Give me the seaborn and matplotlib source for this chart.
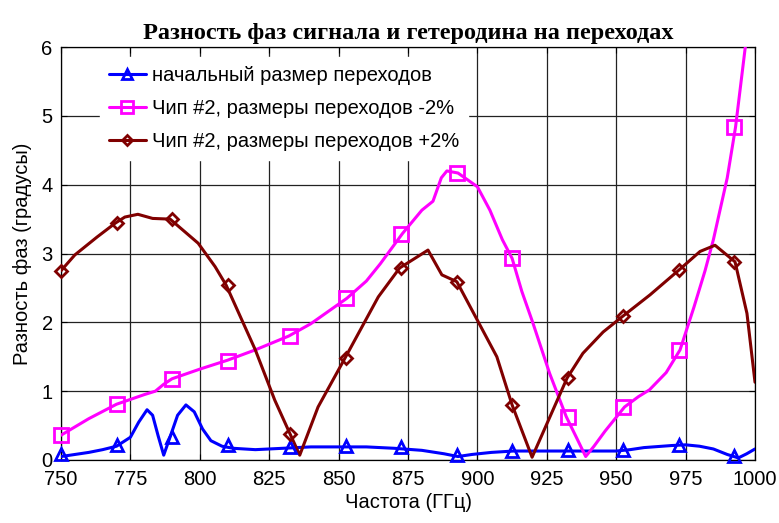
import numpy as np
import pandas as pd
import matplotlib
matplotlib.use("Agg")
import matplotlib.pyplot as plt
from matplotlib.lines import Line2D
import seaborn as sns

# --- data -------------------------------------------------------------
# initial junction size
f_base = [750, 755, 760, 765, 770, 775, 778, 781, 783, 785, 787, 789, 792, 795,
          798, 801, 804, 808, 812, 820, 830, 840, 850, 860, 870, 880, 888, 893,
          898, 905, 913, 920, 930, 940, 950, 955, 960, 970, 975, 980, 985, 990,
          994, 997, 1000]
v_base = [0.05, 0.08, 0.11, 0.15, 0.20, 0.33, 0.55, 0.73, 0.65, 0.35, 0.07, 0.30,
          0.65, 0.80, 0.70, 0.45, 0.28, 0.20, 0.17, 0.15, 0.17, 0.19, 0.19, 0.19,
          0.17, 0.14, 0.09, 0.05, 0.08, 0.11, 0.13, 0.13, 0.13, 0.13, 0.13, 0.15,
          0.18, 0.21, 0.22, 0.20, 0.16, 0.08, 0.03, 0.09, 0.16]

# chip #2, junction size -2%
f_minus = [750, 760, 770, 780, 784, 787, 790, 800, 810, 820, 832, 840, 853, 860,
           865, 873, 880, 884, 887, 889, 893, 900, 904.5, 909, 912.5, 916, 920,
           926, 932, 936, 939, 942, 946, 950, 953, 958, 962, 968, 973, 978, 982,
           985, 990, 993, 996.5, 1000]
v_minus = [0.36, 0.60, 0.81, 0.95, 1.00, 1.10, 1.18, 1.32, 1.45, 1.60, 1.80, 1.98,
           2.35, 2.60, 2.85, 3.29, 3.63, 3.76, 4.10, 4.20, 4.17, 3.97, 3.63, 3.20,
           2.93, 2.45, 1.99, 1.26, 0.63, 0.30, 0.05, 0.20, 0.42, 0.62, 0.77, 0.92,
           1.02, 1.27, 1.60, 2.22, 2.75, 3.20, 4.10, 4.84, 6.00, 7.00]

# chip #2, junction size +2%
f_plus = [750, 755, 763, 769.5, 773, 777.7, 783, 789.3, 799.4, 805.5, 809.5, 820,
          827, 832.5, 836, 842.6, 852.3, 864.3, 872, 882.2, 887.2, 892.6, 900, 907,
          912.5, 919.7, 932.3, 938, 945.3, 952.4, 962.2, 972.6, 980.2, 985.6,
          992.8, 997.1, 1000]
v_plus = [2.75, 2.98, 3.24, 3.44, 3.53, 3.57, 3.51, 3.50, 3.15, 2.81, 2.54, 1.60,
          0.87, 0.38, 0.07, 0.77, 1.48, 2.37, 2.79, 3.05, 2.69, 2.59, 2.03, 1.50,
          0.80, 0.04, 1.19, 1.55, 1.86, 2.09, 2.40, 2.76, 3.03, 3.12, 2.88, 2.13,
          1.13]

# marker positions and values
f_mark = [750, 770, 790, 810, 832.5, 852.5, 872.5, 892.5, 912.5, 932.5, 952.5,
          972.5, 992.5]
m_base = [0.08, 0.22, 0.33, 0.22, 0.19, 0.20, 0.19, 0.07, 0.13, 0.14, 0.15, 0.22, 0.06]
m_minus = [0.36, 0.81, 1.18, 1.44, 1.80, 2.35, 3.29, 4.17, 2.93, 0.63, 0.77, 1.60, 4.84]
m_plus = [2.75, 3.44, 3.50, 2.54, 0.38, 1.48, 2.79, 2.59, 0.80, 1.19, 2.09, 2.76, 2.88]

labels = ["начальный размер переходов",
          "Чип #2, размеры переходов -2%",
          "Чип #2, размеры переходов +2%"]
colors = ["#0000ff", "#ff00ff", "#800000"]
markers = ["^", "s", "D"]
msizes = [9, 10, 6.5]

x_ticks = [750, 775, 800, 825, 850, 875, 900, 925, 950, 975, 1000]
y_ticks = [0, 1, 2, 3, 4, 5, 6]

# --- figure -----------------------------------------------------------
sns.set_theme(style="white")
plt.rcParams["font.family"] = ["Liberation Sans", "DejaVu Sans"]
plt.rcParams["text.color"] = "black"
plt.rcParams["axes.labelcolor"] = "black"

FS = 14.5

fig = plt.figure(figsize=(7.79, 5.23), dpi=100)
ax = fig.add_axes([0.0783, 0.1205, 0.8909, 0.7895])

curves = [(f_base, v_base, m_base), (f_minus, v_minus, m_minus), (f_plus, v_plus, m_plus)]
for (fx, vy, mk), lab, c, m, ms in zip(curves, labels, colors, markers, msizes):
    df = pd.DataFrame({"f": fx, "v": vy})
    sns.lineplot(data=df, x="f", y="v", ax=ax, color=c, lw=2.2, sort=False,
                 estimator=None, legend=False, zorder=3, clip_on=True)
    dm = pd.DataFrame({"f": f_mark, "v": mk})
    ax.plot(dm["f"], dm["v"], ls="none", marker=m, ms=ms, mfc="none", mec=c,
            mew=2.0, zorder=4, clip_on=False)

ax.set_xlim(750, 1000)
ax.set_ylim(0, 6)
ax.set_xticks(x_ticks)
ax.set_yticks(y_ticks)
ax.tick_params(axis="both", which="both", direction="in", length=4, width=0.8,
               colors="black", labelcolor="black", labelsize=FS, top=True,
               right=True, bottom=True, left=True)
ax.tick_params(axis="x", pad=7)
ax.tick_params(axis="y", pad=6)
ax.grid(True, color="#222222", lw=0.9, ls="-")
ax.set_axisbelow(True)
for s in ax.spines.values():
    s.set_color("black")
    s.set_linewidth(0.9)

ax.set_xlabel("Частота (ГГц)", fontsize=FS, labelpad=3, color="black")
ax.set_ylabel("Разность фаз (градусы)", fontsize=FS, labelpad=7, color="black")
ax.set_title("Разность фаз сигнала и гетеродина на переходах",
             fontsize=17.5, fontweight="bold", color="black",
             family=["Liberation Serif", "DejaVu Serif"], pad=6)

handles = [Line2D([], [], color=c, lw=2.2, marker=m, ms=ms * 0.8, mfc="none",
                  mec=c, mew=2.0)
           for c, m, ms in zip(colors, markers, msizes)]
leg = ax.legend(handles, labels, loc="upper left", bbox_to_anchor=(0.042, 1.0),
                frameon=True, fontsize=FS, handlelength=1.8, handletextpad=0.3,
                labelspacing=0.7, borderpad=0.45, fancybox=False)
for t in leg.get_texts():
    t.set_color("black")
leg.get_frame().set_facecolor("white")
leg.get_frame().set_edgecolor("white")
leg.get_frame().set_alpha(1.0)
leg.set_zorder(5)

fig.savefig("out.png", dpi=100)
